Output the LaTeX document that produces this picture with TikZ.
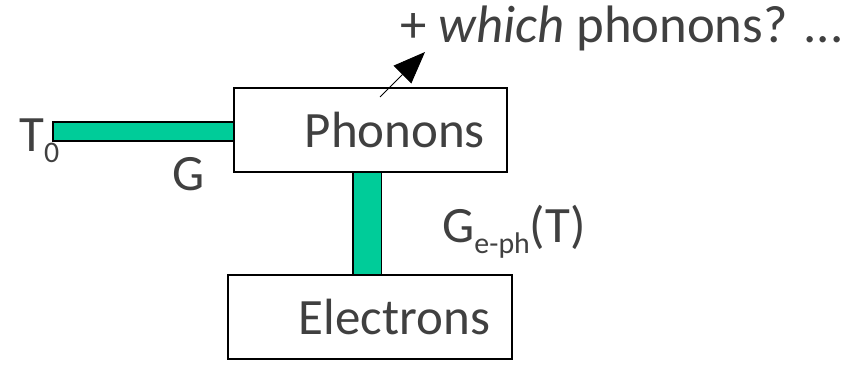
\documentclass[tikz,border=0pt]{standalone}
\usepackage{fontspec}
\setmainfont{Carlito}
\usetikzlibrary{arrows.meta,positioning,calc}
\definecolor{bargreen}{RGB}{0,204,153}
\definecolor{textgray}{RGB}{64,64,64}
\newcommand{\lowsub}[1]{\raisebox{-0.24cm}{\fontsize{17}{18}\selectfont #1}}

\begin{document}
\begin{tikzpicture}[x=0.02cm,y=-0.02cm,>=Stealth,font=\fontsize{29}{34}\selectfont,text=textgray]
\tikzset{box/.style={draw,line width=0.8pt,inner xsep=0.44cm,align=right,minimum height=1.68cm},
  gbar/.style={draw,line width=0.8pt,fill=bargreen},
  lbl/.style={inner sep=0pt,anchor=base west}}
\useasboundingbox (0,0) rectangle (849,365);
\node[box,text width=4.58cm] (phonons) at (370.5,130) {Phonons};
\node[box,text width=4.80cm] (electrons) at (370,317) {Electrons};
\coordinate (t0end) at (53,122);
\draw[gbar] (t0end) rectangle ($(phonons.west)+(0,11)$);
\draw[gbar] ($(phonons.south)+(-17.5,0)$) rectangle ($(electrons.north)+(11.5,0)$);
\node[lbl] (t0) at (19,151) {T\lowsub{0}};
\node[lbl] (g) at (172,190) {G};
\node[lbl] (geph) at (442,242) {G\lowsub{e-ph}(T)};
\node[lbl,font=\fontsize{30}{35}\selectfont] (which) at (400,42) {+ \textit{which} phonons? ...};
\coordinate (arrstart) at (380,97);
\coordinate (arrtip) at (425,52);
\draw[-{Triangle[length=0.64cm,width=0.5cm]},line width=0.5pt] (arrstart) -- (arrtip);
\end{tikzpicture}
\end{document}
